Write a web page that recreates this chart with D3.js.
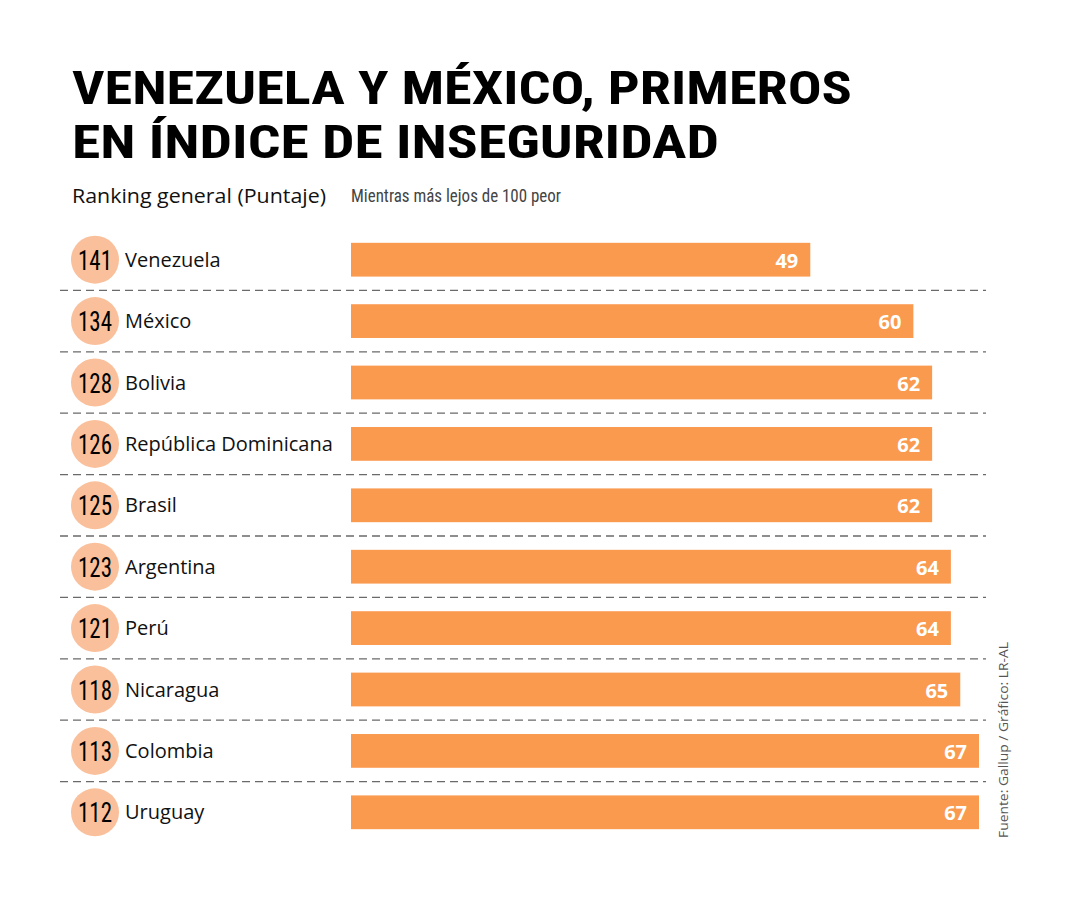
<!DOCTYPE html>
<html><head><meta charset="utf-8">
<script src="https://cdn.jsdelivr.net/npm/d3@7"></script>
<style>body{margin:0;background:#fff}</style>
</head><body>
<svg id="c" width="1080" height="900"></svg>
<script>
const countries = ["Venezuela","México","Bolivia","República Dominicana","Brasil","Argentina","Perú","Nicaragua","Colombia","Uruguay"];
const ranks = [141,134,128,126,125,123,121,118,113,112];
const scores = [49,60,62,62,62,64,64,65,67,67];
const titleLines = ["VENEZUELA Y MÉXICO, PRIMEROS","EN ÍNDICE DE INSEGURIDAD"];
const subtitle = "Ranking general (Puntaje)";
const note = "Mientras más lejos de 100 peor";
const source = "Fuente: Gallup / Gráfico: LR-AL";

const svg = d3.select("#c");
svg.append("rect").attr("width",1080).attr("height",900).attr("fill","#fff");

const condensed = "'Liberation Sans Narrow','Roboto Condensed','DejaVu Sans Condensed',sans-serif";

svg.selectAll("text.title").data(titleLines).join("text")
  .attr("class","title")
  .attr("x",72).attr("y",(d,i)=>104+i*54)
  .attr("font-family",condensed).attr("font-weight","bold")
  .attr("font-size",46).attr("fill","#000")
  .attr("textLength",(d,i)=>i===0?780:647).attr("lengthAdjust","spacingAndGlyphs")
  .text(d=>d);

svg.append("text").attr("x",72).attr("y",203)
  .attr("font-family","'Open Sans',sans-serif").attr("font-size",19.5).attr("fill","#111")
  .attr("textLength",254).attr("lengthAdjust","spacingAndGlyphs")
  .text(subtitle);
svg.append("text").attr("x",351).attr("y",202)
  .attr("font-family",condensed).attr("font-size",18).attr("fill","#444")
  .attr("textLength",210).attr("lengthAdjust","spacingAndGlyphs")
  .text(note);

const y = d3.scaleBand().domain(countries).range([229,843]).paddingInner(0.45).paddingOuter(0.225);
const x = d3.scaleLinear().domain([0,67]).range([351,979]);

const step = y.step();
svg.selectAll("line.sep").data(countries.slice(0,-1)).join("line")
  .attr("class","sep")
  .attr("x1",60).attr("x2",986)
  .attr("y1",d=>y(d)+y.bandwidth()/2+step/2)
  .attr("y2",d=>y(d)+y.bandwidth()/2+step/2)
  .attr("stroke","#6a6a6a").attr("stroke-width",1.3).attr("stroke-dasharray","8,5");

const rows = svg.selectAll("g.row").data(countries).join("g").attr("class","row")
  .attr("transform",d=>`translate(0,${y(d)+y.bandwidth()/2})`);

rows.append("circle").attr("cx",95).attr("cy",0).attr("r",24).attr("fill","#f9c09b");
rows.append("text").attr("transform","translate(95,10) scale(0.82,1)").attr("text-anchor","middle")
  .attr("font-family",condensed).attr("font-size",28).attr("fill","#000")
  .text((d,i)=>ranks[i]);
rows.append("text").attr("x",125).attr("y",7)
  .attr("font-family","'Open Sans',sans-serif").attr("font-size",20).attr("fill","#111")
  .text(d=>d);

rows.append("rect").attr("x",x(0)).attr("y",-y.bandwidth()/2)
  .attr("width",(d,i)=>x(scores[i])-x(0)).attr("height",y.bandwidth())
  .attr("fill","#fa9a4f");
rows.append("text").attr("x",(d,i)=>x(scores[i])-12).attr("y",8).attr("text-anchor","end")
  .attr("font-family","'Open Sans',sans-serif").attr("font-weight","bold").attr("font-size",20).attr("fill","#fff")
  .text((d,i)=>scores[i]);

svg.append("text").attr("transform","translate(1008,838) rotate(-90)")
  .attr("font-family","'Open Sans',sans-serif").attr("font-size",13.5).attr("fill","#555")
  .attr("textLength",196).attr("lengthAdjust","spacingAndGlyphs")
  .text(source);
</script>
</body></html>
